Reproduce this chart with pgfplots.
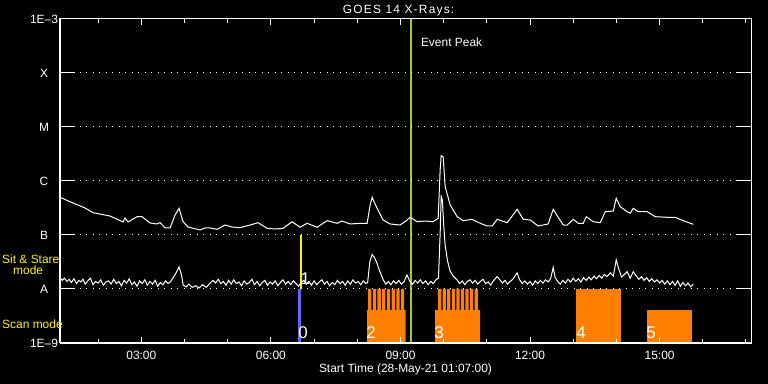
\documentclass[border=0pt]{standalone}
\usepackage{pgfplots}
\pgfplotsset{compat=1.18}
\usepackage{fontspec}
\setmainfont{Liberation Sans}
\definecolor{scanorange}{RGB}{255,128,0}
\definecolor{peakgreen}{RGB}{154,205,50}
\definecolor{stareblue}{RGB}{100,100,255}
\newcommand{\lbl}{\fontsize{12}{14}\selectfont}
\newcommand{\bignum}{\fontsize{17}{19}\selectfont}
\pgfplotsset{
  goesaxis/.style={
    scale only axis, width=691bp, height=324bp,
    at={(60bp,41bp)}, anchor=south west,
    xmin=1.1167, xmax=17.1167, ymin=-9, ymax=-3,
    axis line style={white, line width=1bp},
    every tick/.style={white, line width=1bp},
    tick align=inside,
    ticklabel style={font=\lbl, text=white},
  }
}
\begin{document}
\begin{tikzpicture}
\fill[black] (0,0) rectangle (768bp,384bp);
\useasboundingbox (0,0) rectangle (768bp,384bp);
\begin{axis}[goesaxis, axis on top,
  xtick={3,6,9,12,15},
  xticklabels={03:00,06:00,09:00,12:00,15:00},
  minor xtick={2,4,5,7,8,10,11,13,14,16,17},
  major tick length=6bp, minor tick length=4bp,
  ytick=\empty,
  xticklabel style={anchor=base, yshift=-16.3bp},
  xlabel={Start Time (28-May-21 01:07:00)},
  xlabel style={at={(axis description cs:0.5,0)}, anchor=base, yshift=-29.7bp, text=white, font=\lbl},
  every axis title shift=0pt,
  title={GOES 14 X-Rays:},
  title style={at={(axis description cs:0.49,1)}, anchor=base, yshift=5.7bp, text=white, font=\lbl\addfontfeatures{LetterSpace=10}},
]
% scan blocks
\addplot[fill=scanorange, draw=none, const plot] coordinates {
(8.228,-9) (8.228,-8.389) (8.251,-8) (8.327,-8.389) (8.360,-8) (8.436,-8.389) (8.468,-8) (8.544,-8.389)
(8.577,-8) (8.653,-8.389) (8.685,-8) (8.761,-8.389) (8.794,-8) (8.870,-8.389) (8.903,-8) (8.979,-8.389)
(9.011,-8) (9.087,-8.389) (9.119,-9)};
\addplot[fill=scanorange, draw=none, const plot] coordinates {
(9.802,-9) (9.802,-8.389) (9.871,-8) (9.945,-8.389) (9.977,-8) (10.051,-8.389) (10.082,-8) (10.156,-8.389)
(10.188,-8) (10.262,-8.389) (10.294,-8) (10.368,-8.389) (10.399,-8) (10.473,-8.389) (10.505,-8) (10.579,-8.389)
(10.610,-8) (10.684,-8.389) (10.716,-8) (10.790,-8.389) (10.844,-9)};
\addplot[fill=scanorange, draw=none] coordinates {(13.068,-9) (13.068,-8) (14.110,-8) (14.110,-9)};
\addplot[fill=scanorange, draw=none] coordinates {(14.712,-9) (14.712,-8.389) (15.754,-8.389) (15.754,-9)};
% sit & stare / scan markers
\addplot[stareblue, line width=2.7bp] coordinates {(6.659,-9) (6.659,-8)};
\addplot[yellow, line width=2bp] coordinates {(6.698,-8) (6.698,-7)};
% event peak
\addplot[peakgreen, line width=2.5bp] coordinates {(9.239,-9) (9.239,-3)};
% long channel
\addplot[white, line width=1bp] table {
h e
1.117 -6.302
1.418 -6.407
1.696 -6.500
1.881 -6.587
2.275 -6.648
2.576 -6.759
2.623 -6.685
2.692 -6.759
2.901 -6.661
3.017 -6.661
3.202 -6.778
3.364 -6.796
3.434 -6.772
3.549 -6.870
3.665 -6.870
3.781 -6.630
3.874 -6.506
3.966 -6.754
4.082 -6.852
4.360 -6.907
4.476 -6.870
4.592 -6.870
4.754 -6.894
4.939 -6.815
5.101 -6.852
5.286 -6.865
5.518 -6.815
5.703 -6.772
5.912 -6.876
6.097 -6.889
6.282 -6.876
6.491 -6.754
6.676 -6.857
6.838 -6.783
7.070 -6.857
7.302 -6.735
7.533 -6.783
7.649 -6.741
7.834 -6.796
8.066 -6.783
8.228 -6.783
8.298 -6.444
8.344 -6.302
8.460 -6.506
8.599 -6.722
8.761 -6.796
8.993 -6.815
9.155 -6.722
9.224 -6.672
9.387 -6.754
9.572 -6.741
9.757 -6.754
9.873 -6.691
9.919 -5.796
9.943 -5.531
9.989 -5.550
10.035 -6.106
10.151 -6.444
10.313 -6.661
10.452 -6.735
10.660 -6.709
10.846 -6.783
11.008 -6.833
11.124 -6.833
11.240 -6.709
11.471 -6.772
11.703 -6.524
11.842 -6.709
12.004 -6.722
12.189 -6.833
12.421 -6.796
12.537 -6.524
12.653 -6.672
12.769 -6.815
12.861 -6.815
13.000 -6.709
13.116 -6.783
13.232 -6.783
13.301 -6.661
13.463 -6.754
13.626 -6.772
13.741 -6.569
13.927 -6.556
13.996 -6.320
14.089 -6.476
14.251 -6.569
14.320 -6.598
14.390 -6.506
14.506 -6.569
14.714 -6.569
14.899 -6.661
15.177 -6.672
15.362 -6.672
15.547 -6.735
15.779 -6.802
};
% short channel
\addplot[white, line width=1bp] table {
h e
1.12 -7.79
1.17 -7.84
1.22 -7.80
1.28 -7.86
1.33 -7.82
1.38 -7.88
1.44 -7.81
1.50 -7.90
1.55 -7.84
1.60 -7.87
1.65 -7.82
1.70 -7.91
1.76 -7.85
1.82 -7.80
1.88 -7.92
1.94 -7.86
2.00 -7.89
2.06 -7.83
2.12 -7.93
2.18 -7.87
2.24 -7.85
2.30 -7.91
2.36 -7.82
2.42 -7.90
2.48 -7.86
2.54 -7.94
2.60 -7.84
2.66 -7.89
2.72 -7.81
2.78 -7.92
2.84 -7.87
2.90 -7.95
2.96 -7.85
3.02 -7.90
3.08 -7.83
3.14 -7.93
3.20 -7.86
3.26 -7.91
3.32 -7.84
3.38 -7.95
3.44 -7.88
3.50 -7.92
3.56 -7.85
3.62 -7.90
3.68 -7.86
3.76 -7.76
3.82 -7.68
3.874 -7.59
3.93 -7.74
3.97 -7.93
4.04 -7.96
4.10 -7.91
4.18 -7.97
4.26 -7.94
4.34 -7.98
4.42 -7.92
4.50 -7.97
4.58 -7.90
4.66 -7.84
4.72 -7.89
4.78 -7.82
4.84 -7.90
4.90 -7.86
4.96 -7.93
5.02 -7.84
5.08 -7.91
5.14 -7.83
5.20 -7.90
5.26 -7.87
5.32 -7.94
5.38 -7.85
5.44 -7.91
5.50 -7.88
5.56 -7.82
5.62 -7.92
5.68 -7.86
5.74 -7.94
5.80 -7.88
5.86 -7.84
5.92 -7.93
5.98 -7.87
6.04 -7.91
6.10 -7.85
6.16 -7.94
6.22 -7.88
6.28 -7.83
6.34 -7.91
6.40 -7.86
6.46 -7.92
6.52 -7.85
6.58 -7.90
6.64 -7.95
6.70 -7.88
6.76 -7.84
6.82 -7.91
6.88 -7.86
6.94 -7.93
7.00 -7.85
7.06 -7.92
7.12 -7.87
7.18 -7.83
7.24 -7.91
7.30 -7.86
7.36 -7.94
7.42 -7.88
7.48 -7.92
7.54 -7.84
7.60 -7.90
7.66 -7.86
7.72 -7.93
7.78 -7.85
7.84 -7.91
7.90 -7.83
7.96 -7.89
8.02 -7.86
8.08 -7.92
8.14 -7.85
8.20 -7.90
8.24 -7.88
8.29 -7.50
8.344 -7.36
8.40 -7.42
8.46 -7.53
8.52 -7.67
8.60 -7.83
8.66 -7.91
8.72 -7.86
8.78 -7.92
8.84 -7.85
8.90 -7.90
8.96 -7.84
9.02 -7.91
9.08 -7.87
9.15 -7.74
9.22 -7.86
9.28 -7.91
9.34 -7.84
9.40 -7.89
9.46 -7.83
9.52 -7.90
9.58 -7.85
9.64 -7.92
9.70 -7.86
9.76 -7.90
9.82 -7.83
9.88 -7.80
9.92 -6.95
9.943 -6.29
9.97 -6.35
10.00 -6.80
10.035 -7.19
10.09 -7.48
10.15 -7.67
10.22 -7.76
10.31 -7.83
10.37 -7.90
10.43 -7.85
10.49 -7.92
10.55 -7.86
10.61 -7.83
10.67 -7.89
10.73 -7.84
10.79 -7.91
10.85 -7.86
10.91 -7.82
10.97 -7.90
11.03 -7.87
11.09 -7.93
11.15 -7.85
11.24 -7.77
11.30 -7.83
11.36 -7.89
11.42 -7.84
11.48 -7.91
11.54 -7.86
11.60 -7.82
11.70 -7.70
11.76 -7.83
11.82 -7.90
11.88 -7.85
11.94 -7.91
12.00 -7.86
12.06 -7.93
12.12 -7.85
12.18 -7.90
12.24 -7.84
12.30 -7.89
12.36 -7.83
12.42 -7.87
12.48 -7.80
12.537 -7.60
12.58 -7.78
12.64 -7.86
12.70 -7.91
12.76 -7.84
12.82 -7.89
12.88 -7.82
12.94 -7.87
13.00 -7.80
13.06 -7.86
13.12 -7.81
13.18 -7.87
13.24 -7.79
13.30 -7.84
13.36 -7.78
13.42 -7.83
13.48 -7.76
13.54 -7.81
13.60 -7.75
13.66 -7.80
13.72 -7.73
13.78 -7.77
13.86 -7.70
13.93 -7.76
13.996 -7.46
14.05 -7.62
14.12 -7.78
14.20 -7.72
14.25 -7.68
14.32 -7.80
14.39 -7.68
14.46 -7.76
14.52 -7.82
14.58 -7.77
14.64 -7.84
14.70 -7.79
14.76 -7.86
14.82 -7.81
14.88 -7.87
14.94 -7.83
15.00 -7.89
15.06 -7.84
15.12 -7.91
15.18 -7.85
15.24 -7.92
15.30 -7.86
15.36 -7.93
15.42 -7.85
15.48 -7.95
15.54 -7.88
15.60 -7.94
15.66 -7.89
15.72 -7.96
15.78 -7.91
};
% labels
\node[anchor=base west, inner sep=0, text=white, font=\lbl] at (axis cs:9.471,-3.513) {Event Peak};
\node[anchor=base west, inner sep=0, text=white, font=\bignum] at (axis cs:6.63,-8.917) {0};
\node[anchor=base west, inner sep=0, text=white, font=\bignum] at (axis cs:6.685,-7.917) {1};
\node[anchor=base west, inner sep=0, text=white, font=\bignum] at (axis cs:8.205,-8.917) {2};
\node[anchor=base west, inner sep=0, text=white, font=\bignum] at (axis cs:9.779,-8.917) {3};
\node[anchor=base west, inner sep=0, text=white, font=\bignum] at (axis cs:13.068,-8.917) {4};
\node[anchor=base west, inner sep=0, text=white, font=\bignum] at (axis cs:14.689,-8.917) {5};
\end{axis}
\begin{axis}[goesaxis,
  xtick=\empty,
  ytick={-9,-8,-7,-6,-5,-4,-3},
  yticklabels={1E--9,A,B,C,M,X,1E--3},
  major tick length=15bp,
  ymajorgrids,
  grid style={white, dash pattern=on 1bp off 5.5bp, line width=1bp},
  yticklabel style={anchor=center, xshift=-16bp},
]
\end{axis}
\node[anchor=base west, inner sep=0, text=yellow, font=\lbl] at (2bp,120.7bp) {Sit \& Stare};
\node[anchor=base west, inner sep=0, text=yellow, font=\lbl] at (13bp,109bp) {mode};
\node[anchor=base west, inner sep=0, text=yellow, font=\lbl] at (2bp,55.7bp) {Scan mode};
\end{tikzpicture}
\end{document}
